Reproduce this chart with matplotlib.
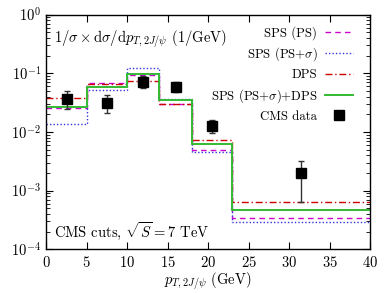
import numpy as np
import matplotlib
matplotlib.use("Agg")
import matplotlib.pyplot as plt
from matplotlib.ticker import LogLocator, MultipleLocator, NullFormatter

plt.rcParams['font.family'] = 'serif'
plt.rcParams['font.serif'] = ['cmr10', 'DejaVu Serif']
plt.rcParams['mathtext.fontset'] = 'cm'
plt.rcParams['axes.formatter.use_mathtext'] = True
plt.rcParams['axes.unicode_minus'] = False

# bin edges (GeV)
edges = [0, 5, 10, 14, 18, 23, 40]
sps_ps = [0.0254, 0.0676, 0.0937, 0.0297, 0.00493, 0.000338]
sps_ps_sigma = [0.0135, 0.052, 0.122, 0.036, 0.00461, 0.000289]
dps = [0.0385, 0.0658, 0.075, 0.030, 0.0073, 0.000648]
sps_dps = [0.0264, 0.0592, 0.0975, 0.0351, 0.00624, 0.000468]

# CMS data
cms_x = [2.55, 7.5, 12.0, 16.0, 20.45, 31.5]
cms_y = [0.0365, 0.0308, 0.072, 0.059, 0.0128, 0.00197]
cms_up = [0.050, 0.0428, 0.090, 0.071, 0.016, 0.00324]
cms_dn = [0.0247, 0.0213, 0.0556, 0.0475, 0.0095, 0.00065]

fig = plt.figure(figsize=(3.9, 2.93), dpi=100)
ax = fig.add_axes([0.118, 0.149, 0.831, 0.801])

ax.stairs(sps_ps, edges, baseline=None, color='#cc00cc', lw=1.0, ls=(0, (4, 3)), label='SPS (PS)')
ax.stairs(sps_ps_sigma, edges, baseline=None, color='#3333dd', lw=1.0, ls=(0, (1, 1.5)), label=r'SPS (PS+$\sigma$)')
ax.stairs(dps, edges, baseline=None, color='#cc0000', lw=1.0, ls=(0, (5, 2, 1, 2)), label='DPS')
ax.stairs(sps_dps, edges, baseline=None, color='#33bb33', lw=1.4, label=r'SPS (PS+$\sigma$)+DPS')

y = np.array(cms_y)
yerr = [y - np.array(cms_dn), np.array(cms_up) - y]
eb = ax.errorbar(cms_x, cms_y, yerr=yerr, fmt='s', color='black', ms=6.5, ecolor='#333333',
                 elinewidth=1.0, capsize=2.5, capthick=1.0, label='CMS data')

ax.set_xlim(0, 40)
ax.set_yscale('log')
ax.set_ylim(1e-4, 1)
ax.xaxis.set_major_locator(MultipleLocator(5))
ax.yaxis.set_major_locator(LogLocator(base=10, numticks=10))
ax.yaxis.set_minor_locator(LogLocator(base=10, subs=np.arange(2, 10), numticks=20))
ax.yaxis.set_minor_formatter(NullFormatter())
ax.tick_params(which='both', direction='in', top=True, right=True, labelsize=10.5)
ax.tick_params(which='major', length=5)
ax.tick_params(which='minor', length=3)
ax.tick_params(axis='x', pad=4)
for s in ax.spines.values():
    s.set_linewidth(1.0)

ax.set_xlabel(r'$p_{T,2J/\psi}$ (GeV)', fontsize=10.5, labelpad=0)
ax.text(0.025, 0.94, r'$1/\sigma\times\mathrm{d}\sigma/\mathrm{d}p_{T,2J/\psi}$ (1/GeV)',
        transform=ax.transAxes, fontsize=10.5, va='top', ha='left')
ax.text(0.025, 0.03, r'CMS cuts, $\sqrt{S}=7$ TeV', transform=ax.transAxes,
        fontsize=10.5, va='bottom', ha='left')

handles, labels = ax.get_legend_handles_labels()
handles = [eb[0] if h is eb else h for h in handles]
leg = ax.legend(handles, labels, loc='upper right', frameon=False, markerfirst=False, fontsize=9.2,
                handlelength=2.2, labelspacing=0.45, borderaxespad=0.3, handletextpad=0.6,
                bbox_to_anchor=(0.975, 0.99))

fig.savefig('out.png', dpi=100)
